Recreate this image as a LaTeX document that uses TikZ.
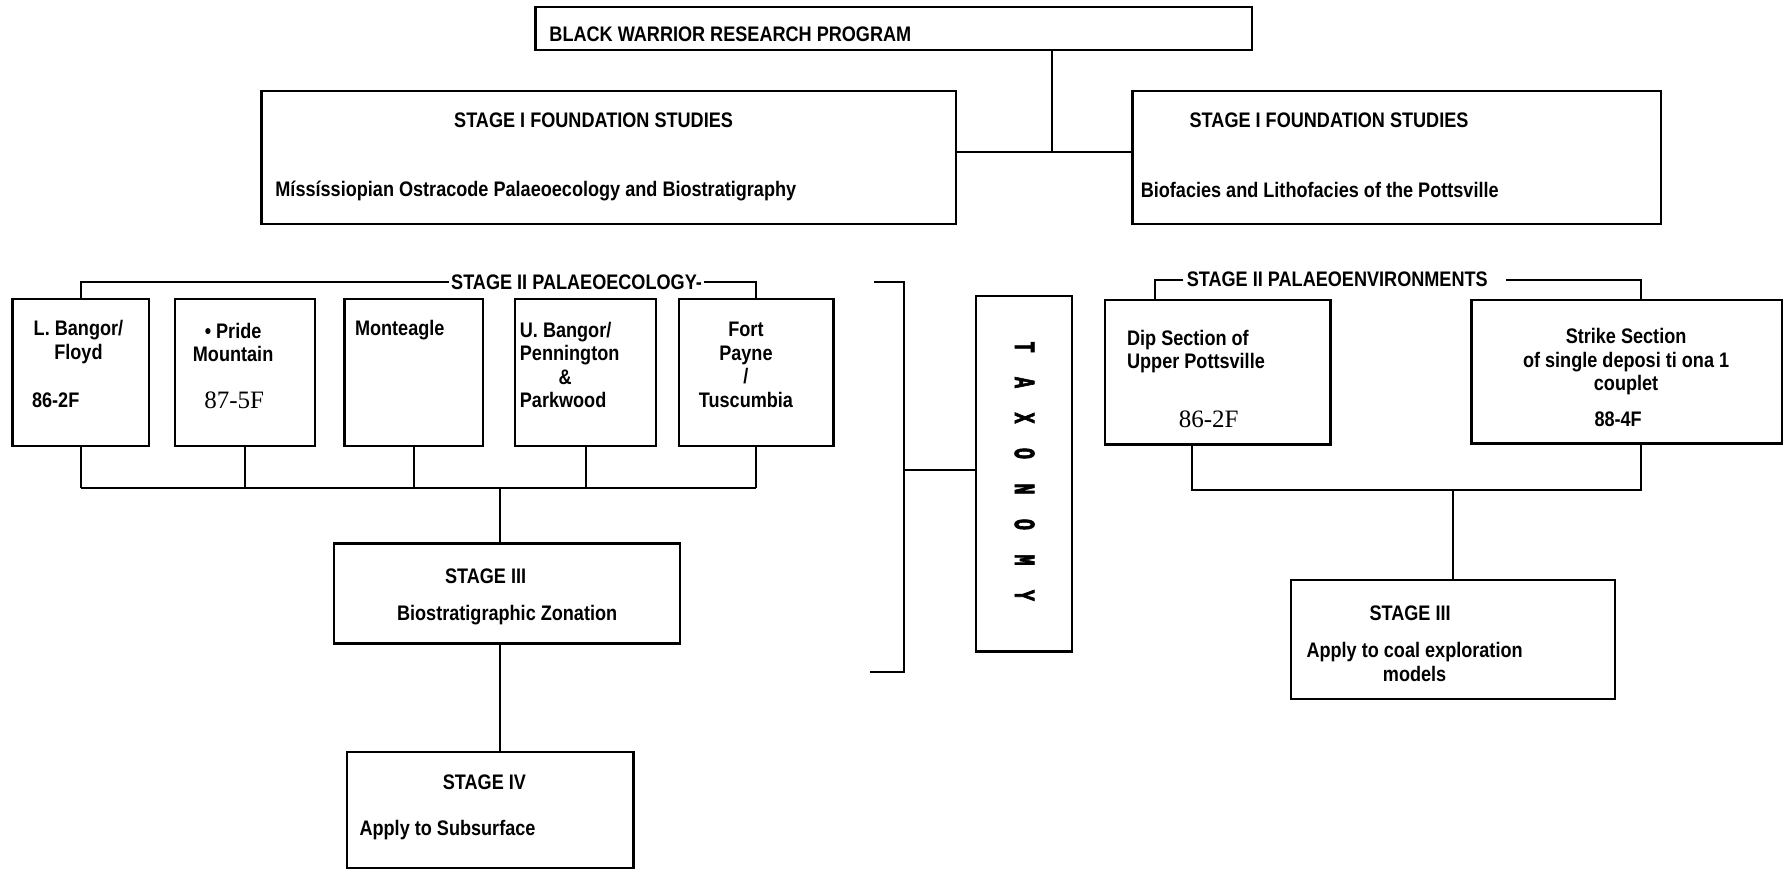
\documentclass[tikz,border=0pt]{standalone}
\usepackage{fontspec}
\setmainfont{Liberation Sans}[FakeStretch=0.86]
\newfontfamily\numfont{Liberation Serif}
\newfontfamily\taxfont{Liberation Mono}[FakeStretch=0.62, FakeBold=2]
\begin{document}
\begin{tikzpicture}[x=1pt,y=-1pt,
    box/.style={draw, line width=2pt, anchor=north west, inner sep=0pt},
    link/.style={line width=1.8pt},
    txt/.style={inner sep=0pt, font=\bfseries\fontsize{18.5}{20.7}\selectfont},
    num/.style={inner sep=0pt, font=\numfont\fontsize{22}{24}\selectfont},
    taxl/.style={inner sep=0pt, font=\taxfont\bfseries\fontsize{26}{26}\selectfont}]
    \useasboundingbox (0,0) rectangle (1568,764);
    % top of the programme
    \node[box, minimum width=630pt, minimum height=38pt] (prog) at (470,5) {};
    \node[txt, anchor=west] (progt) at (483,30) {BLACK WARRIOR RESEARCH PROGRAM};
    \node[box, minimum width=611pt, minimum height=117pt] (found1) at (229,79) {};
    \node[box, minimum width=465pt, minimum height=117pt] (found2) at (995,79) {};
    \node[txt] (found1t) at (522,106) {STAGE I FOUNDATION STUDIES};
    \node[txt, anchor=west] (found1s) at (242,168) {Míssíssiopian Ostracode Palaeoecology and Biostratigraphy};
    \node[txt, anchor=west] (found2t) at (1046,106) {STAGE I FOUNDATION STUDIES};
    \node[txt, anchor=west] (found2s) at (1003,167) {Biofacies and Lithofacies of the Pottsville};
    \coordinate (j0) at (925,134);
    \draw[link] (prog.south -| j0) -- (j0);
    \draw[link] (found1.east |- j0) -- (found2.west |- j0);
    % stage II palaeoecology
    \node[box, minimum width=120pt, minimum height=129pt] (eco1) at (10,262) {};
    \node[box, minimum width=123pt, minimum height=129pt] (eco2) at (153,262) {};
    \node[box, minimum width=122pt, minimum height=129pt] (eco3) at (302,262) {};
    \node[box, minimum width=124pt, minimum height=129pt] (eco4) at (452,262) {};
    \node[box, minimum width=136pt, minimum height=129pt] (eco5) at (596,262) {};
    \node[txt, fill=white, inner xsep=2pt] (ecolab) at (507,248) {STAGE II PALAEOECOLOGY-};
    \draw[link] (eco1.north) |- (ecolab.west);
    \draw[link] (ecolab.east) -| (eco5.north);
    \node[txt, align=center] (eco1t) at (69,301) {L. Bangor/\\Floyd};
    \node[txt, anchor=west] (eco1n) at (28,352) {86-2F};
    \node[txt, align=center] (eco2t) at (205,301) {• Pride\\Mountain};
    \node[num] (eco2n) at (206,352) {87-5F};
    \node[txt, anchor=west] (eco3t) at (312,290) {Monteagle};
    \node[txt, align=left, anchor=west] (eco4t) at (457,321) {U. Bangor/\\Pennington\\\hspace*{34pt}\&\\Parkwood};
    \node[txt, align=center] (eco5t) at (656,321) {Fort\\Payne\\/\\Tuscumbia};
    \coordinate (ecojoin) at (440,429);
    \foreach \i in {1,...,5}
      \draw[link] (eco\i.south) -- (eco\i.south |- ecojoin);
    \draw[link] (eco1.south |- ecojoin) -- (eco5.south |- ecojoin);
    % stages III and IV
    \node[box, minimum width=304pt, minimum height=88pt] (strat) at (293,477) {};
    \node[txt] (stratt) at (427,507) {STAGE III};
    \node[txt] (strats) at (446,541) {Biostratigraphic Zonation};
    \node[box, minimum width=252pt, minimum height=102pt] (sub) at (304,660) {};
    \node[txt] (subt) at (426,688) {STAGE IV};
    \node[txt, anchor=west] (subs) at (316,730) {Apply to Subsurface};
    \draw[link] (ecojoin) -- (ecojoin |- strat.north);
    \draw[link] (strat.south -| ecojoin) -- (sub.north -| ecojoin);
    % taxonomy bracket
    \node[box, minimum width=85pt, minimum height=313pt] (tax) at (857,259) {};
    \foreach \ch [count=\k] in {T,A,X,O,N,O,M,Y}
      \node[taxl, rotate=-90] (tax\k) at (901,274+\k*31.2) {\ch};
    \coordinate (brk) at (795,413);
    \coordinate (brktop) at (769,248);
    \coordinate (brkbot) at (765,591);
    \draw[link] (brktop) -- (brktop -| brk) -- (brkbot -| brk) -- (brkbot);
    \draw[link] (brk) -- (brk -| tax.west);
    % stage II palaeoenvironments
    \node[box, minimum width=198pt, minimum height=127pt] (dip) at (971,263) {};
    \node[box, minimum width=273pt, minimum height=126pt] (strike) at (1293,263) {};
    \node[txt] (envlab) at (1176,246) {STAGE II PALAEOENVIRONMENTS};
    \coordinate (envL) at (1016,246);
    \coordinate (envR) at (1443,246);
    \draw[link] ([xshift=-3pt]envlab.west) -- (envL) -- (envL |- dip.north);
    \draw[link] ([xshift=16pt]envlab.east) -- (envR) -- (envR |- strike.north);
    \node[txt, anchor=west, align=left] (dipt) at (991,309) {Dip Section of\\Upper Pottsville};
    \node[num] (dipn) at (1063,369) {86-2F};
    \node[txt, align=center] (striket) at (1430,318) {Strike Section\\of single deposi ti ona 1\\couplet};
    \node[txt] (striken) at (1423,369) {88-4F};
    \node[box, minimum width=285pt, minimum height=105pt] (coal) at (1134,509) {};
    \node[txt] (coalt) at (1240,539) {STAGE III};
    \node[txt, align=center] (coals) at (1244,582) {Apply to coal exploration\\models};
    \coordinate (envjoin) at (1278,431);
    \draw[link] (dip.south -| 1048,0) -- (1048,0 |- envjoin) -- (envR |- envjoin) -- (envR |- strike.south);
    \draw[link] (envjoin) -- (envjoin |- coal.north);
\end{tikzpicture}
\end{document}
